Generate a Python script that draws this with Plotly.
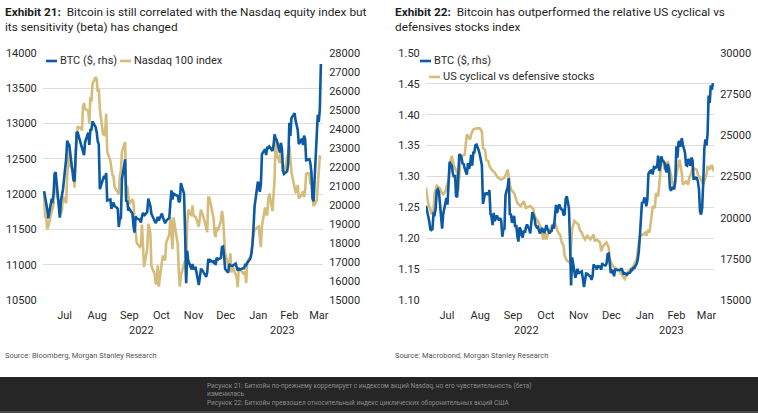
import pandas as pd
import plotly.graph_objects as go

# ---------------- DATA ----------------
# Nasdaq 100 index, US trading days 2022-06-27 .. 2023-03-17
ndx_values = [
    12033, 11662, 11680, 11504,
    11544, 11780, 11860, 12110, 12126, 11860, 11740, 11720, 11770, 11970, 11870, 12250, 12460, 12640, 12400, 12330, 12090, 12600, 12740, 12950,
    12940, 12900, 13240, 13290, 13210, 13180, 13000, 13380, 13310, 13560, 13660, 13630, 13450, 13490, 13210, 12850, 12840, 12880, 13140, 12600, 12470, 12340, 12270,
    12250, 12100, 12000, 12260, 12330, 12600, 12740, 12030, 12120, 11920, 11860, 11930, 11870, 11640, 11490, 11310, 11250, 11270, 11570, 11210, 10970,
    11220, 11580, 11530, 11440, 10980, 10870, 10740, 10720, 10990, 10690, 11040, 11130, 11100, 11060, 11310, 11430, 11670, 11420, 11220, 11670, 11410,
    11290, 10900, 10690, 10850, 10990, 11060, 10790, 11580, 11780, 11690, 11840, 11700, 11680, 11680, 11540, 11690, 11780, 11700, 11530, 11460, 11950,
    11950, 11880, 11660, 11440, 11390, 11530, 11480, 11620, 11760, 11670, 11300, 11160, 10990, 11000, 11160, 10890, 10980, 10820, 10680, 10960, 10940,
    10860, 10910, 10740, 11040, 11110, 11170, 11370, 11430, 11500, 11540, 11380, 11250, 11550, 11810, 11720, 11700, 11920, 12010, 11760, 11960,
    12210, 12800, 12570, 12440, 12730, 12480, 12320, 12300, 12490, 12590, 12690, 12420, 12310, 12030, 12040, 12130, 11940, 12000, 12040,
    11960, 12050, 12290, 12300, 12140, 12190, 11980, 11830, 11910, 12150, 12240, 12530, 12520,
]
ndx_holidays = ["2022-07-04", "2022-09-05", "2022-11-24", "2022-12-26",
                "2023-01-02", "2023-01-16", "2023-02-20"]

# Bitcoin, US$, daily 2022-06-27 .. 2023-03-21
btc_values = [
    20730, 20280, 20100, 19780,
    19300, 19250, 19300, 20230, 20190, 20550, 21640, 21730, 21590, 20860, 19970, 19330, 20210, 20570, 20830, 21200,
    20790, 22430, 23390, 23230, 23160, 22680, 22460, 22580, 21310, 21250, 22950, 23850, 23800, 23650, 23300,
    23270, 22990, 22820, 22620, 23310, 22970, 23180, 23810, 23160, 23950, 23960, 24400, 24440, 24310, 24100, 23850,
    23340, 23190, 20830, 21140, 21520, 21400, 21530, 21370, 21680, 20240, 20040, 19550, 20290, 19800, 20050,
    20130, 19950, 19830, 19990, 19810, 18840, 19290, 19320, 21360, 21650, 21830, 22400, 20170, 20240, 19700,
    19800, 20110, 19420, 19540, 18880, 18550, 19410, 19300, 18930, 18800, 19220, 19080, 19410, 19590, 19430,
    19310, 19050, 19630, 20340, 20160, 19960, 19530, 19420, 19450, 19140, 19050, 19160, 19380, 19190, 19070, 19270,
    19550, 19330, 19130, 19040, 19170, 19210, 19570, 19330, 20090, 20770, 20290, 20600, 20810, 20630, 20500,
    20480, 20150, 20210, 21150, 21300, 20910, 20590, 18540, 15880, 17590, 17070, 16800, 16350, 16620, 16900,
    16600, 16690, 16700, 16730, 16280, 15790, 16190, 16610, 16600, 16520, 16460, 16440, 16220, 16440, 17170,
    16980, 17090, 16850, 17110, 16970, 17090, 16840, 17230, 17130, 17130, 17100, 17210, 17780, 17810, 17360, 16630,
    16780, 16740, 16440, 16900, 16820, 16830, 16800, 16840, 16830, 16920, 16710, 16550, 16630, 16600, 16540,
    16620, 16670, 16670, 16850, 16830, 16950, 16950, 17090, 17190, 17440, 17940, 18850, 19930, 20960, 20880, 21170,
    21160, 20690, 21090, 22680, 22780, 22710, 22930, 22630, 23060, 23010, 23080, 23030, 23770, 22840, 23140,
    23720, 23490, 23430, 23330, 22930, 22760, 23260, 22960, 21800, 21630, 21860, 21780, 21780, 22200,
    24330, 23640, 24570, 24640, 24310, 24830, 24440, 24190, 23950, 23200, 23160, 23550, 23490, 23150,
    23650, 23480, 22360, 22350, 22430, 22410, 22200, 21720, 20360, 20190, 20630, 22160, 24200, 24750, 24380,
    25050, 27420, 26970, 28040, 27770, 28170,
]

# US cyclical vs defensive stocks (relative index)
ratio_dates = [
    "2022-06-27", "2022-06-29", "2022-07-01", "2022-07-02", "2022-07-04", "2022-07-05", "2022-07-07", "2022-07-10",
    "2022-07-12", "2022-07-13", "2022-07-15", "2022-07-16", "2022-07-18", "2022-07-20", "2022-07-21", "2022-07-23",
    "2022-07-24", "2022-07-26", "2022-07-27", "2022-07-29", "2022-07-30", "2022-08-02", "2022-08-04", "2022-08-05",
    "2022-08-07", "2022-08-08", "2022-08-10", "2022-08-13", "2022-08-16", "2022-08-18", "2022-08-19", "2022-08-21",
    "2022-08-22", "2022-08-24", "2022-08-25", "2022-08-27", "2022-08-30", "2022-09-02", "2022-09-05", "2022-09-08",
    "2022-09-10", "2022-09-11", "2022-09-13", "2022-09-14", "2022-09-17", "2022-09-20", "2022-09-23", "2022-09-26",
    "2022-09-28", "2022-10-02", "2022-10-05", "2022-10-06", "2022-10-09", "2022-10-12", "2022-10-14", "2022-10-16",
    "2022-10-17", "2022-10-19", "2022-10-22", "2022-10-25", "2022-10-28", "2022-10-30", "2022-10-31", "2022-11-02",
    "2022-11-03", "2022-11-05", "2022-11-08", "2022-11-10", "2022-11-12", "2022-11-16", "2022-11-17", "2022-11-19",
    "2022-11-20", "2022-11-22", "2022-11-24", "2022-11-27", "2022-11-30", "2022-12-01", "2022-12-03", "2022-12-06",
    "2022-12-07", "2022-12-09", "2022-12-12", "2022-12-14", "2022-12-15", "2022-12-18", "2022-12-22", "2022-12-25",
    "2022-12-28", "2022-12-29", "2022-12-31", "2023-01-03", "2023-01-06", "2023-01-09", "2023-01-12", "2023-01-15",
    "2023-01-17", "2023-01-18", "2023-01-20", "2023-01-21", "2023-01-23", "2023-01-24", "2023-01-26", "2023-01-27",
    "2023-01-29", "2023-01-31", "2023-02-01", "2023-02-03", "2023-02-04", "2023-02-06", "2023-02-07", "2023-02-09",
    "2023-02-10", "2023-02-12", "2023-02-13", "2023-02-15", "2023-02-17", "2023-02-18", "2023-02-20", "2023-02-21",
    "2023-02-23", "2023-02-24", "2023-02-26", "2023-02-27", "2023-03-01", "2023-03-02", "2023-03-06", "2023-03-07",
    "2023-03-09", "2023-03-10", "2023-03-12", "2023-03-13", "2023-03-15", "2023-03-16", "2023-03-18", "2023-03-20",
    "2023-03-22",
]
ratio_values = [
    1.282, 1.257, 1.247, 1.241, 1.244, 1.273, 1.285, 1.281,
    1.273, 1.271, 1.276, 1.284, 1.295, 1.327, 1.333, 1.317,
    1.314, 1.306, 1.276, 1.327, 1.333, 1.335, 1.368, 1.365,
    1.360, 1.368, 1.376, 1.378, 1.378, 1.373, 1.346, 1.343,
    1.327, 1.325, 1.317, 1.311, 1.306, 1.298, 1.295, 1.298,
    1.306, 1.311, 1.287, 1.279, 1.273, 1.257, 1.252, 1.260,
    1.249, 1.252, 1.247, 1.236, 1.228, 1.217, 1.198, 1.209,
    1.198, 1.209, 1.220, 1.225, 1.209, 1.205, 1.195, 1.188,
    1.172, 1.164, 1.160, 1.215, 1.228, 1.222, 1.214, 1.209,
    1.204, 1.198, 1.204, 1.198, 1.206, 1.195, 1.198, 1.193,
    1.179, 1.188, 1.193, 1.185, 1.166, 1.155, 1.150, 1.144,
    1.136, 1.134, 1.144, 1.150, 1.155, 1.166, 1.204, 1.206,
    1.209, 1.204, 1.214, 1.209, 1.236, 1.252, 1.249, 1.273,
    1.268, 1.303, 1.322, 1.327, 1.311, 1.317, 1.325, 1.311,
    1.300, 1.284, 1.287, 1.306, 1.319, 1.327, 1.306, 1.287,
    1.290, 1.292, 1.287, 1.298, 1.306, 1.314, 1.311, 1.303,
    1.298, 1.295, 1.287, 1.292, 1.303, 1.317, 1.311, 1.319,
    1.308,
]

# ---------------- BUILD SERIES ----------------
ndx_dates = pd.bdate_range("2022-06-27", "2023-03-17")
ndx_dates = ndx_dates[~ndx_dates.isin(pd.to_datetime(ndx_holidays))]
n = min(len(ndx_dates), len(ndx_values))
ndx = pd.Series(ndx_values[:n], index=ndx_dates[:n])

btc_dates = pd.date_range("2022-06-27", periods=len(btc_values), freq="D")
btc = pd.Series(btc_values, index=btc_dates)
btc_left = btc[(btc.index.dayofweek < 5) & (btc.index <= "2023-03-17")]

BLUE = "#0b5aa3"
GOLD = "#d5bc7a"
GRID = "#dcdcdc"
TXT = "#2b2b2b"
FONT = "Roboto"

W, H = 758, 413
def px(x):
    return x / W
def py(y):
    return 1 - y / H

left_dom = [px(43), px(323)]
right_dom = [px(426), px(714)]
y_dom = [py(300), py(53)]
left_range = ["2022-06-26", "2023-03-19"]
right_range = ["2022-06-27", "2023-03-22"]

fig = go.Figure()
fig.add_trace(go.Scatter(x=btc_left.index, y=btc_left.values, xaxis="x", yaxis="y2",
                         mode="lines", line=dict(color=BLUE, width=2.6), name="BTC ($, rhs)"))
fig.add_trace(go.Scatter(x=ndx.index, y=ndx.values, xaxis="x", yaxis="y",
                         mode="lines", line=dict(color=GOLD, width=2.6), name="Nasdaq 100 index"))
fig.add_trace(go.Scatter(x=btc.index, y=btc.values, xaxis="x2", yaxis="y4",
                         mode="lines", line=dict(color=BLUE, width=2.6), name="BTC ($, rhs)"))
fig.add_trace(go.Scatter(x=pd.to_datetime(ratio_dates), y=ratio_values, xaxis="x2", yaxis="y3",
                         mode="lines", line=dict(color=GOLD, width=2.6), name="US cyclical vs defensive stocks"))

tickfont = dict(family=FONT, size=11, color=TXT)
xcommon = dict(type="date", dtick="M1", tick0="2022-07-01", tickformat="%b",
               ticklabelmode="period", showgrid=False, zeroline=False, showline=False,
               ticks="outside", ticklen=5, tickcolor="rgba(0,0,0,0)", tickfont=tickfont,
               fixedrange=True, automargin=False)
ycommon = dict(showline=False, zeroline=False, ticks="outside", ticklen=3,
               tickcolor="rgba(0,0,0,0)", tickfont=tickfont, fixedrange=True, automargin=False)

fig.update_layout(
    width=W, height=H,
    margin=dict(l=0, r=0, t=0, b=0, pad=0, autoexpand=False),
    paper_bgcolor="white", plot_bgcolor="white",
    showlegend=False,
    font=dict(family=FONT, color=TXT),
    xaxis=dict(domain=left_dom, anchor="y", range=left_range, **xcommon),
    yaxis=dict(domain=y_dom, anchor="x", range=[10500, 14000], dtick=500, tick0=10500,
               tickformat="d", showgrid=True, gridcolor=GRID, gridwidth=1, **ycommon),
    yaxis2=dict(overlaying="y", side="right", anchor="x", range=[15000, 28000], dtick=1000,
                tick0=15000, tickformat="d", showgrid=False, **ycommon),
    xaxis2=dict(domain=right_dom, anchor="y3", range=right_range, **xcommon),
    yaxis3=dict(domain=y_dom, anchor="x2", range=[1.10, 1.50], dtick=0.05, tick0=1.10,
                tickformat=".2f", showgrid=True, gridcolor=GRID, gridwidth=1, **ycommon),
    yaxis4=dict(overlaying="y3", side="right", anchor="x2", range=[15000, 30000], dtick=2500,
                tick0=15000, tickformat="d", showgrid=False, **ycommon),
)

ann = []
shapes = []

# Titles
title_font = dict(family=FONT, size=11.8, color="#1e1e1e")
ann.append(dict(x=px(3), y=py(3), xref="paper", yref="paper", xanchor="left", yanchor="top",
                align="left", showarrow=False, font=title_font,
                text="<b>Exhibit 21:</b>\u00a0 Bitcoin is still correlated with the Nasdaq equity index but<br>"
                     "its sensitivity (beta) has changed"))
ann.append(dict(x=px(393), y=py(3), xref="paper", yref="paper", xanchor="left", yanchor="top",
                align="left", showarrow=False, font=title_font,
                text="<b>Exhibit 22:</b>\u00a0 Bitcoin has outperformed the relative US cyclical vs<br>"
                     "defensives stocks index"))

# Year labels (centred on visible part of each year)
def year_mid(rng, year):
    a = max(pd.Timestamp(rng[0]), pd.Timestamp(f"{year}-01-01"))
    b = min(pd.Timestamp(rng[1]), pd.Timestamp(f"{year}-12-31"))
    return a + (b - a) / 2

for xr, rng in (("x", left_range), ("x2", right_range)):
    for yr in (2022, 2023):
        ann.append(dict(x=year_mid(rng, yr), y=py(330), xref=xr, yref="paper", showarrow=False,
                        xanchor="center", yanchor="middle", text=str(yr), font=tickfont))

# Legends
def legend_item(x_line, y, label, color):
    shapes.append(dict(type="line", xref="paper", yref="paper", x0=px(x_line), x1=px(x_line + 11),
                       y0=py(y), y1=py(y), line=dict(color=color, width=2.6)))
    ann.append(dict(x=px(x_line + 12), y=py(y), xref="paper", yref="paper", xanchor="left",
                    yanchor="middle", showarrow=False, text=label, font=tickfont))

legend_item(46, 61, "BTC ($, rhs)", BLUE)
legend_item(120, 61, "Nasdaq 100 index", GOLD)
legend_item(420, 61, "BTC ($, rhs)", BLUE)
legend_item(429, 77, "US cyclical vs defensive stocks", GOLD)

# Sources
for x0, txt in ((3, "Source: Bloomberg, Morgan Stanley Research"),
                (393, "Source: Macrobond, Morgan Stanley Research")):
    ann.append(dict(x=px(x0), y=py(355), xref="paper", yref="paper", xanchor="left", yanchor="middle",
                    showarrow=False, text=txt, font=dict(family=FONT, size=7.5, color="#555555")))

# Footer band
shapes.append(dict(type="rect", xref="paper", yref="paper", x0=0, x1=1, y0=0, y1=py(377),
                   fillcolor="#262626", line=dict(width=0), layer="below"))
shapes.append(dict(type="rect", xref="paper", yref="paper", x0=0, x1=1, y0=0, y1=py(411),
                   fillcolor="#4a4a4a", line=dict(width=0), layer="below"))
ann.append(dict(x=px(205), y=py(394), xref="paper", yref="paper", xanchor="left", yanchor="middle",
                align="left", showarrow=False, font=dict(family=FONT, size=6.5, color="#8c8c8c"),
                text="Рисунок 21: Биткойн по-прежнему коррелирует с индексом акций Nasdaq, но его чувствительность (бета)<br>"
                     "изменилась<br>"
                     "Рисунок 22: Биткойн превзошел относительный индекс циклических оборонительных акций США"))

fig.update_layout(annotations=ann, shapes=shapes)
fig.write_html("out.html",
               config={"displayModeBar": False, "staticPlot": True},
               post_script="document.body.style.margin='0';document.body.style.overflow='hidden';")
